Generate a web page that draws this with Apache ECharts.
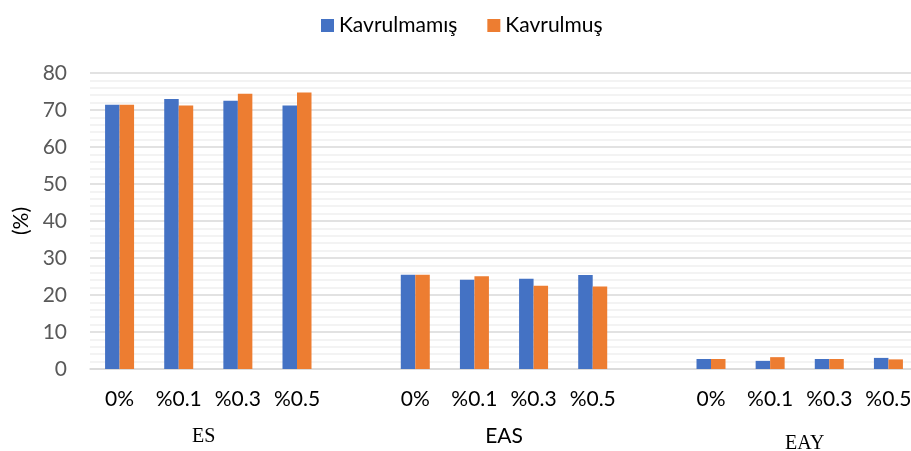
<!DOCTYPE html>
<html>
<head>
<meta charset="utf-8">
<script src="https://cdn.jsdelivr.net/npm/echarts@6/dist/echarts.min.js"></script>
<style>
  html, body { margin: 0; padding: 0; background: #fff; }
  #chart { width: 911px; height: 451px; }
</style>
</head>
<body>
<div id="chart"></div>
<script>
// kategoriler (gruplar arasinda bos kategori)
const categories = ['0%', '%0.1', '%0.3', '%0.5', '', '0%', '%0.1', '%0.3', '%0.5', '', '0%', '%0.1', '%0.3', '%0.5']
const groupLabels = ['ES', 'EAS', 'EAY']
const groupCenters = [2, 7, 12]
const kavrulmamis = [71.4, 73.0, 72.5, 71.2, null, 25.5, 24.1, 24.4, 25.4, null, 2.7, 2.2, 2.7, 3.0]
const kavrulmus = [71.4, 71.2, 74.4, 74.7, null, 25.5, 25.1, 22.5, 22.3, null, 2.7, 3.2, 2.7, 2.6]
const yTicks = { min: 0, max: 80, interval: 10 }

const font = 'Lato, "Noto Sans", sans-serif'
const serif = '"Liberation Serif", "DejaVu Serif", serif'
// grup etiketleri farkli yazi tipleriyle yazilmis
const groupRich = ['g0', 'g1', 'g2']
const chart = echarts.init(document.getElementById('chart'))
chart.setOption({
  animation: false,
  legend: {
    left: 316,
    top: 10,
    icon: 'rect',
    itemWidth: 13,
    itemHeight: 13,
    itemGap: 30,
    textStyle: { fontFamily: font, fontSize: 21, color: '#000' },
    data: ['Kavrulmamış', 'Kavrulmuş']
  },
  grid: {
    left: 90,
    right: -7,
    top: 73,
    bottom: 82,
    outerBoundsMode: 'none'
  },
  xAxis: [
    {
      type: 'category',
      data: categories,
      axisLine: { lineStyle: { color: '#d9d9d9', width: 1.5 } },
      axisTick: { show: false },
      axisLabel: {
        interval: 0,
        margin: 20,
        fontFamily: font,
        fontSize: 21,
        color: '#000'
      }
    },
    {
      type: 'value',
      position: 'bottom',
      offset: 57,
      min: 0,
      max: categories.length,
      interval: 1,
      axisLine: { show: false },
      axisTick: { show: false },
      splitLine: { show: false },
      axisLabel: {
        margin: 0,
        color: '#000',
        fontFamily: serif,
        fontSize: 20,
        formatter: function (v) {
          const i = groupCenters.indexOf(v)
          return i >= 0 ? '{' + groupRich[i] + '|' + groupLabels[i] + '}' : ''
        },
        rich: {
          g0: { fontFamily: serif, fontSize: 20, padding: [1, 9, 0, 0] },
          g1: { fontFamily: font, fontSize: 21, padding: [0, 0, 0, 0] },
          g2: { fontFamily: serif, fontSize: 20, padding: [8, 0, 0, 10] }
        }
      }
    }
  ],
  yAxis: {
    type: 'value',
    min: yTicks.min,
    max: yTicks.max,
    interval: yTicks.interval,
    name: '(%)',
    nameLocation: 'middle',
    nameGap: 58,
    nameTextStyle: { fontFamily: font, fontSize: 21, color: '#000' },
    axisLine: { show: false },
    axisTick: { show: false },
    axisLabel: { fontFamily: font, fontSize: 21, color: '#595959', margin: 23 },
    splitLine: { lineStyle: { color: '#d9d9d9', width: 1.5 } },
    minorTick: { show: false, splitNumber: 5 },
    minorSplitLine: { show: true, lineStyle: { color: '#f0f0f0', width: 1.5 } }
  },
  series: [
    {
      name: 'Kavrulmamış',
      type: 'bar',
      data: kavrulmamis,
      barWidth: 14.5,
      barGap: '0%',
      itemStyle: { color: '#4472c4' }
    },
    {
      name: 'Kavrulmuş',
      type: 'bar',
      data: kavrulmus,
      barWidth: 14.5,
      barGap: '0%',
      itemStyle: { color: '#ed7d31' }
    }
  ]
})
</script>
</body>
</html>
